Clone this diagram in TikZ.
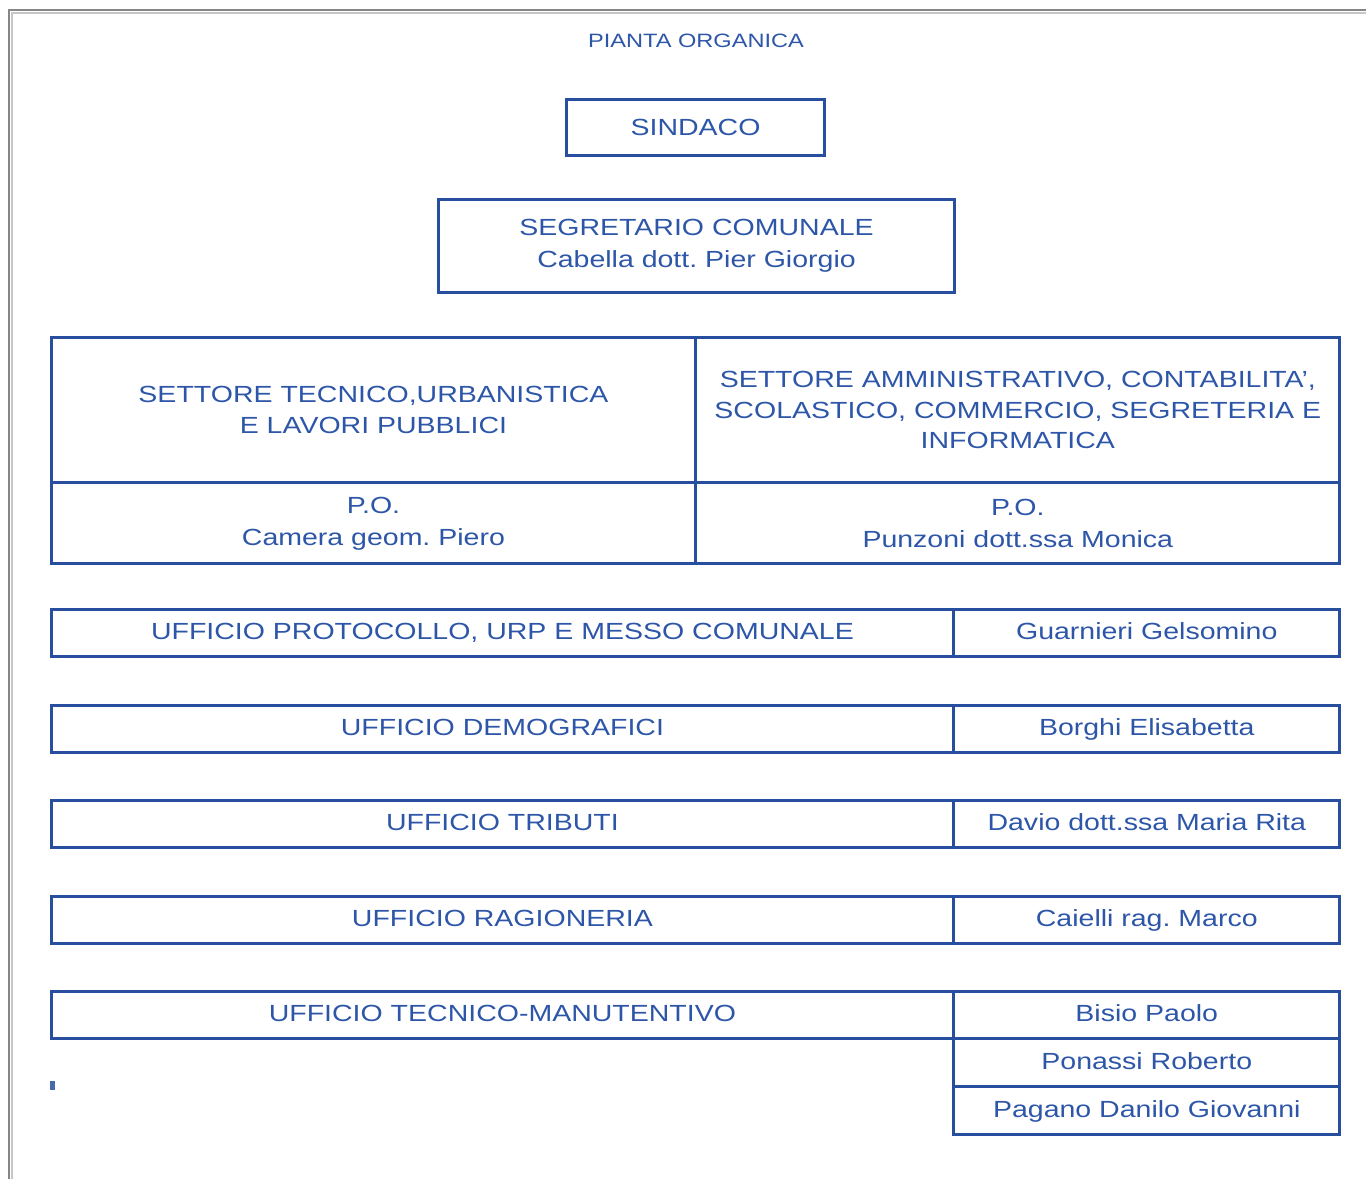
\documentclass[tikz,border=0pt]{standalone}
\usepackage{fontspec}
\setmainfont{Liberation Sans}[FakeStretch=1.22]
\usetikzlibrary{positioning}
\definecolor{bordoblu}{RGB}{40,78,160}
\definecolor{testoblu}{RGB}{45,86,168}
\frenchspacing

\begin{document}
\begin{tikzpicture}[x=0.02cm, y=-0.02cm,
    box/.style={draw=bordoblu, line width=0.06cm, text=testoblu, inner sep=0pt,
        outer sep=0pt, align=center, font=\fontsize{13.3}{18}\selectfont},
    riga/.style={box, minimum height=0.96cm, anchor=north west,
        text height=0.92em, text depth=0.2em},
    nome/.style={box, minimum width=7.72cm, minimum height=0.96cm,
        text height=0.92em, text depth=0.2em}]
    \useasboundingbox (0,0) rectangle (1366,1179);
    % Bordo della pagina
    \draw[gray!95, line width=0.04cm] (9,1179) -- (9,10) -- (1366,10);
    \draw[gray!45, line width=0.04cm] (12,1179) -- (12,13) -- (1366,13);

    % Titolo e vertici
    \node[text=testoblu, font=\fontsize{11}{12}\selectfont] (titolo) at (696,41) {PIANTA ORGANICA};
    \node[box, minimum width=5.18cm, minimum height=1.14cm] (sindaco) at (695.5,127.5) {SINDACO};
    \node[box, minimum width=10.34cm, minimum height=1.88cm]
        (segretario) at (696.5,246) {SEGRETARIO COMUNALE\\Cabella dott. Pier Giorgio};

    % Settori
    \node[box, anchor=north west, minimum width=12.9cm, minimum height=2.92cm] (settTec) at (51,337)
        {SETTORE TECNICO,URBANISTICA\\E LAVORI PUBBLICI};
    \node[box, minimum width=12.88cm, minimum height=2.92cm, right=0pt of settTec,
        font=\fontsize{13.3}{17.5}\selectfont] (settAmm)
        {SETTORE AMMINISTRATIVO, CONTABILITA',\\SCOLASTICO, COMMERCIO, SEGRETERIA E\\INFORMATICA};
    \node[box, minimum width=12.9cm, minimum height=1.62cm, below=0pt of settTec] (poTec)
        {P.O.\\Camera geom. Piero};
    \node[box, minimum width=12.88cm, minimum height=1.62cm, below=0pt of settAmm] (poAmm)
        {P.O.\\Punzoni dott.ssa Monica};

    % Uffici
    \node[riga, minimum width=18.06cm] (ufProt) at (51,609) {UFFICIO PROTOCOLLO, URP E MESSO COMUNALE};
    \node[nome, right=0pt of ufProt] (nomeProt) {Guarnieri Gelsomino};
    \node[riga, minimum width=18.06cm] (ufDemo) at (51,705) {UFFICIO DEMOGRAFICI};
    \node[nome, right=0pt of ufDemo] (nomeDemo) {Borghi Elisabetta};
    \node[riga, minimum width=18.06cm] (ufTrib) at (51,800) {UFFICIO TRIBUTI};
    \node[nome, right=0pt of ufTrib] (nomeTrib) {Davio dott.ssa Maria Rita};
    \node[riga, minimum width=18.06cm] (ufRag) at (51,896) {UFFICIO RAGIONERIA};
    \node[nome, right=0pt of ufRag] (nomeRag) {Caielli rag. Marco};
    \node[riga, minimum width=18.06cm] (ufTecn) at (51,991) {UFFICIO TECNICO-MANUTENTIVO};
    \node[nome, right=0pt of ufTecn] (nomeTecn1) {Bisio Paolo};
    \node[nome, below=0pt of nomeTecn1] (nomeTecn2) {Ponassi Roberto};
    \node[nome, below=0pt of nomeTecn2] (nomeTecn3) {Pagano Danilo Giovanni};

    % Segno isolato
    \fill[bordoblu!85] (50,1081) rectangle (55,1090);
\end{tikzpicture}
\end{document}
